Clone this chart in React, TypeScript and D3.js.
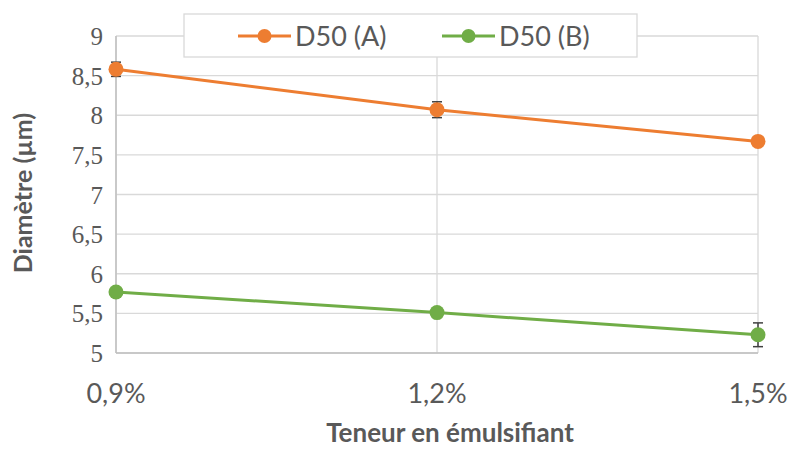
import React from "react";
import * as d3 from "d3";

const categories = ["0,9%", "1,2%", "1,5%"];
const seriesA = [8.58, 8.07, 7.67];
const errorsA = [0.09, 0.1, 0.02];
const seriesB = [5.77, 5.51, 5.23];
const errorsB = [0.0, 0.0, 0.15];
const yTicks = [5, 5.5, 6, 6.5, 7, 7.5, 8, 8.5, 9];
const seriesNames = ["D50 (A)", "D50 (B)"];
const colors = ["#ED7D31", "#70AD47"];

const W = 790;
const H = 450;
const left = 116;
const right = 758;
const top = 36;
const bottom = 353;

export default function App() {
  const x = d3.scalePoint<string>().domain(categories).range([left, right]);
  const y = d3.scaleLinear().domain([5, 9]).range([bottom, top]);
  const line = d3
    .line<number>()
    .x((_, i) => x(categories[i]) as number)
    .y((d) => y(d));
  const fmt = (v: number) => String(v).replace(".", ",");
  const series = [
    { vals: seriesA, errs: errorsA, color: colors[0] },
    { vals: seriesB, errs: errorsB, color: colors[1] },
  ];
  const grid = "#d9d9d9";
  const sans = "Lato, sans-serif";
  const serif = "Times New Roman, Liberation Serif, DejaVu Serif, serif";
  return (
    <svg width={W} height={H} style={{ position: "absolute", left: 0, top: 0 }}>
      <rect width={W} height={H} fill="#fff" />
      {yTicks.map((t) => (
        <line key={"h" + t} x1={left} x2={right} y1={y(t)} y2={y(t)} stroke={grid} strokeWidth={1.3} />
      ))}
      {categories.map((c) => (
        <line key={"v" + c} x1={x(c)} x2={x(c)} y1={top} y2={bottom} stroke={grid} strokeWidth={1.3} />
      ))}
      <line x1={left} x2={left} y1={top} y2={bottom} stroke="#bfbfbf" strokeWidth={1.5} />
      <line x1={left} x2={right} y1={bottom} y2={bottom} stroke="#bfbfbf" strokeWidth={1.5} />
      {yTicks.map((t) => (
        <text
          key={"yt" + t}
          x={left - 13}
          y={y(t) + 9}
          textAnchor="end"
          style={{ fontFamily: serif, fontSize: "25px" }}
          fill="#595959"
        >
          {fmt(t)}
        </text>
      ))}
      {categories.map((c) => (
        <text
          key={"xt" + c}
          x={x(c)}
          y={403}
          textAnchor="middle"
          fontFamily={sans}
          fontSize={27}
          fill="#595959"
        >
          {c}
        </text>
      ))}
      <text x={450} y={442} textAnchor="middle" fontFamily={sans} fontSize={26} fontWeight="bold" fill="#595959">
        Teneur en émulsifiant
      </text>
      <text
        transform={`translate(32,193) rotate(-90)`}
        textAnchor="middle"
        fontFamily={sans}
        fontSize={25}
        fontWeight="bold"
        fill="#595959"
      >
        Diamètre (µm)
      </text>
      {series.map((s, si) => (
        <g key={"s" + si}>
          <path d={line(s.vals) || ""} fill="none" stroke={s.color} strokeWidth={3} />
          {s.vals.map((v, i) =>
            s.errs[i] > 0 ? (
              <g key={"e" + i} stroke="#404040" strokeWidth={1.5}>
                <line x1={x(categories[i])} x2={x(categories[i])} y1={y(v - s.errs[i])} y2={y(v + s.errs[i])} />
                <line x1={(x(categories[i]) as number) - 5} x2={(x(categories[i]) as number) + 5} y1={y(v - s.errs[i])} y2={y(v - s.errs[i])} />
                <line x1={(x(categories[i]) as number) - 5} x2={(x(categories[i]) as number) + 5} y1={y(v + s.errs[i])} y2={y(v + s.errs[i])} />
              </g>
            ) : null
          )}
          {s.vals.map((v, i) => (
            <circle key={i} cx={x(categories[i])} cy={y(v)} r={7.5} fill={s.color} />
          ))}
        </g>
      ))}
      <rect x={184} y={14} width={453} height={43} fill="#fff" stroke={grid} strokeWidth={1.3} />
      {seriesNames.map((n, i) => {
        const lx = i === 0 ? 238 : 442;
        return (
          <g key={"l" + i}>
            <line x1={lx} x2={lx + 53} y1={36} y2={36} stroke={colors[i]} strokeWidth={3} />
            <circle cx={lx + 26.5} cy={36} r={7} fill={colors[i]} />
            <text x={lx + 57} y={46} fontFamily={sans} fontSize={27} fill="#595959">
              {n}
            </text>
          </g>
        );
      })}
    </svg>
  );
}
